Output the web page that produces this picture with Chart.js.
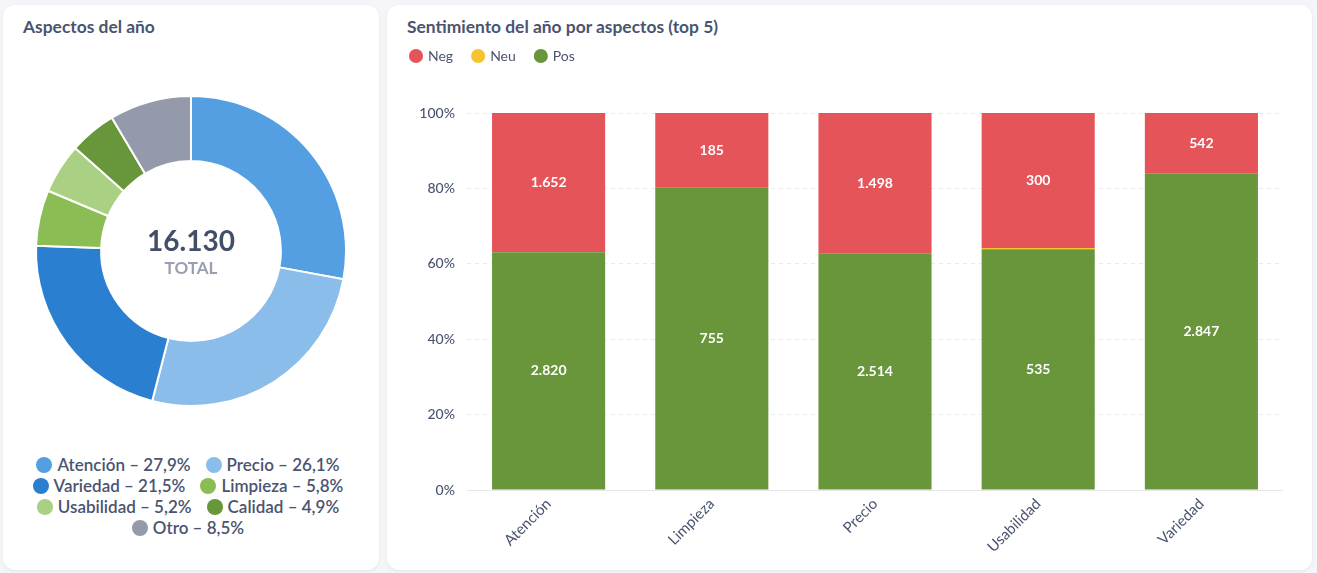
<!DOCTYPE html>
<html>
<head>
<meta charset="utf-8">
<script src="https://cdn.jsdelivr.net/npm/chart.js@4"></script>
<style>
  html, body { margin:0; padding:0; }
  body { width:1317px; height:573px; background:#f4f5f8; position:relative; overflow:hidden; font-family: Lato, "Noto Sans", sans-serif; }
  .card { position:absolute; background:#fff; border-radius:12px; box-shadow:0 1px 3px rgba(20,30,60,0.07); }
  .title { position:absolute; font-family:Lato; font-weight:700; font-size:17.4px; color:#4a5470; white-space:nowrap; }
  .cv { position:absolute; }
  #donutLegend { position:absolute; left:0px; top:454px; width:376px; display:flex; flex-wrap:wrap; justify-content:center; font-family:Lato; font-size:17px; font-weight:600; color:#4a5470; }
  #donutLegend .it { display:flex; align-items:center; height:21px; line-height:21px; margin:0 7.5px; white-space:nowrap; }
  #donutLegend .dot { width:16px; height:16px; border-radius:50%; margin-right:5px; flex:none; }
</style>
</head>
<body>
<div class="card" style="left:3px; top:5px; width:376px; height:565px;"></div>
<div class="card" style="left:387px; top:5px; width:925px; height:565px;"></div>
<div class="title" style="left:23px; top:15.5px;">Aspectos del año</div>
<div class="title" style="left:407px; top:15.5px;">Sentimiento del año por aspectos (top 5)</div>
<div class="cv" style="left:3px; top:95px; width:376px; height:312px;"><canvas id="donut"></canvas></div>
<div id="donutLegend"></div>
<div class="cv" style="left:391px; top:29px; width:892px; height:531px;"><canvas id="bars"></canvas></div>
<script>
// ---- Data ----
const aspectLabels = ['Atención', 'Precio', 'Variedad', 'Limpieza', 'Usabilidad', 'Calidad', 'Otro'];
const aspectCounts = [4503, 4212, 3470, 938, 840, 792, 1375];
const aspectColors = ['#539fe1', '#8abdea', '#2a7fd0', '#8bbd55', '#a9d083', '#68963a', '#959aab'];

const sentCategories = ['Atención', 'Limpieza', 'Precio', 'Usabilidad', 'Variedad'];
const negCounts = [1652, 185, 1498, 300, 542];
const neuCounts = [0, 0, 0, 3, 0];
const posCounts = [2820, 755, 2514, 535, 2847];
const yTicks = [0, 20, 40, 60, 80, 100];

const TEXT = '#4a5470';
const fmt = n => String(n).replace(/\B(?=(\d{3})+(?!\d))/g, '.');

// ---- Doughnut ----
const total = aspectCounts.reduce((a, b) => a + b, 0);
const centerText = {
  id: 'centerText',
  afterDraw(chart) {
    const meta = chart.getDatasetMeta(0);
    if (!meta.data.length) return;
    const {x, y} = meta.data[0];
    const ctx = chart.ctx;
    ctx.save();
    ctx.textAlign = 'center';
    ctx.textBaseline = 'alphabetic';
    ctx.fillStyle = '#434e69';
    ctx.font = '700 28px Lato';
    ctx.fillText(fmt(total), x, y);
    ctx.fillStyle = '#9aa0b1';
    ctx.font = '700 17px Lato';
    ctx.fillText('TOTAL', x, y + 23);
    ctx.restore();
  }
};

// HTML legend generated from the chart's own data
const htmlLegend = {
  id: 'htmlLegend',
  afterUpdate(chart) {
    const box = document.getElementById('donutLegend');
    box.innerHTML = '';
    const ds = chart.data.datasets[0];
    const sum = ds.data.reduce((a, b) => a + b, 0);
    chart.data.labels.forEach((l, i) => {
      const it = document.createElement('div');
      it.className = 'it';
      const dot = document.createElement('span');
      dot.className = 'dot';
      dot.style.background = ds.backgroundColor[i];
      const tx = document.createElement('span');
      tx.textContent = l + ' – ' + (ds.data[i] / sum * 100).toFixed(1).replace('.', ',') + '%';
      it.appendChild(dot);
      it.appendChild(tx);
      box.appendChild(it);
    });
  }
};

new Chart(document.getElementById('donut'), {
  type: 'doughnut',
  data: {
    labels: aspectLabels,
    datasets: [{
      data: aspectCounts,
      backgroundColor: aspectColors,
      borderColor: '#ffffff',
      borderWidth: 2,
      hoverOffset: 0
    }]
  },
  options: {
    responsive: true,
    maintainAspectRatio: false,
    animation: false,
    cutout: '58%',
    layout: { padding: 0 },
    plugins: {
      tooltip: { enabled: false },
      legend: { display: false }
    }
  },
  plugins: [centerText, htmlLegend]
});

// ---- Stacked 100% bars ----
const totals = sentCategories.map((_, i) => negCounts[i] + neuCounts[i] + posCounts[i]);
const pct = arr => arr.map((v, i) => v / totals[i] * 100);

const barLabels = {
  id: 'barLabels',
  afterDatasetsDraw(chart) {
    const ctx = chart.ctx;
    ctx.save();
    ctx.fillStyle = '#ffffff';
    ctx.font = '700 14px Lato';
    ctx.textAlign = 'center';
    ctx.textBaseline = 'middle';
    chart.data.datasets.forEach((ds, di) => {
      const meta = chart.getDatasetMeta(di);
      meta.data.forEach((bar, i) => {
        const h = Math.abs(bar.base - bar.y);
        if (h < 18) return;
        ctx.fillText(fmt(ds.counts[i]), bar.x, (bar.y + bar.base) / 2);
      });
    });
    ctx.restore();
  }
};

new Chart(document.getElementById('bars'), {
  type: 'bar',
  data: {
    labels: sentCategories,
    datasets: [
      { label: 'Pos', data: pct(posCounts), counts: posCounts, backgroundColor: '#69963b' },
      { label: 'Neu', data: pct(neuCounts), counts: neuCounts, backgroundColor: '#f5c431' },
      { label: 'Neg', data: pct(negCounts), counts: negCounts, backgroundColor: '#e45459' }
    ]
  },
  options: {
    responsive: true,
    maintainAspectRatio: false,
    animation: false,
    layout: { padding: 0 },
    datasets: { bar: { barPercentage: 0.77, categoryPercentage: 0.9 } },
    scales: {
      x: {
        stacked: true,
        grid: { display: false },
        border: { display: true, color: '#e4e6ea', width: 1 },
        ticks: { color: TEXT, font: { family: 'Lato', size: 15 }, minRotation: 45, maxRotation: 45, padding: -3 },
        afterFit(s) { s.height = 70; }
      },
      y: {
        stacked: true,
        min: 0,
        max: 100,
        afterBuildTicks(s) { s.ticks = yTicks.map(v => ({ value: v })); },
        grid: { color: '#e9eaee', drawTicks: false, lineWidth: 1 },
        border: { display: false, dash: [4, 4] },
        ticks: { color: TEXT, font: { family: 'Lato', size: 14, weight: '500' }, padding: 12, callback: v => v + '%' },
        afterFit(s) { s.width = 76; }
      }
    },
    plugins: {
      tooltip: { enabled: false },
      subtitle: { display: true, text: '', position: 'top', weight: 500, padding: 0, font: { size: 40, lineHeight: 1 } },
      legend: {
        position: 'top',
        align: 'start',
        reverse: true,
        labels: {
          usePointStyle: true,
          pointStyle: 'circle',
          boxWidth: 10,
          boxHeight: 10,
          padding: 20,
          color: TEXT,
          font: { family: 'Lato', size: 14 }
        }
      }
    }
  },
  plugins: [barLabels]
});
</script>
</body>
</html>
